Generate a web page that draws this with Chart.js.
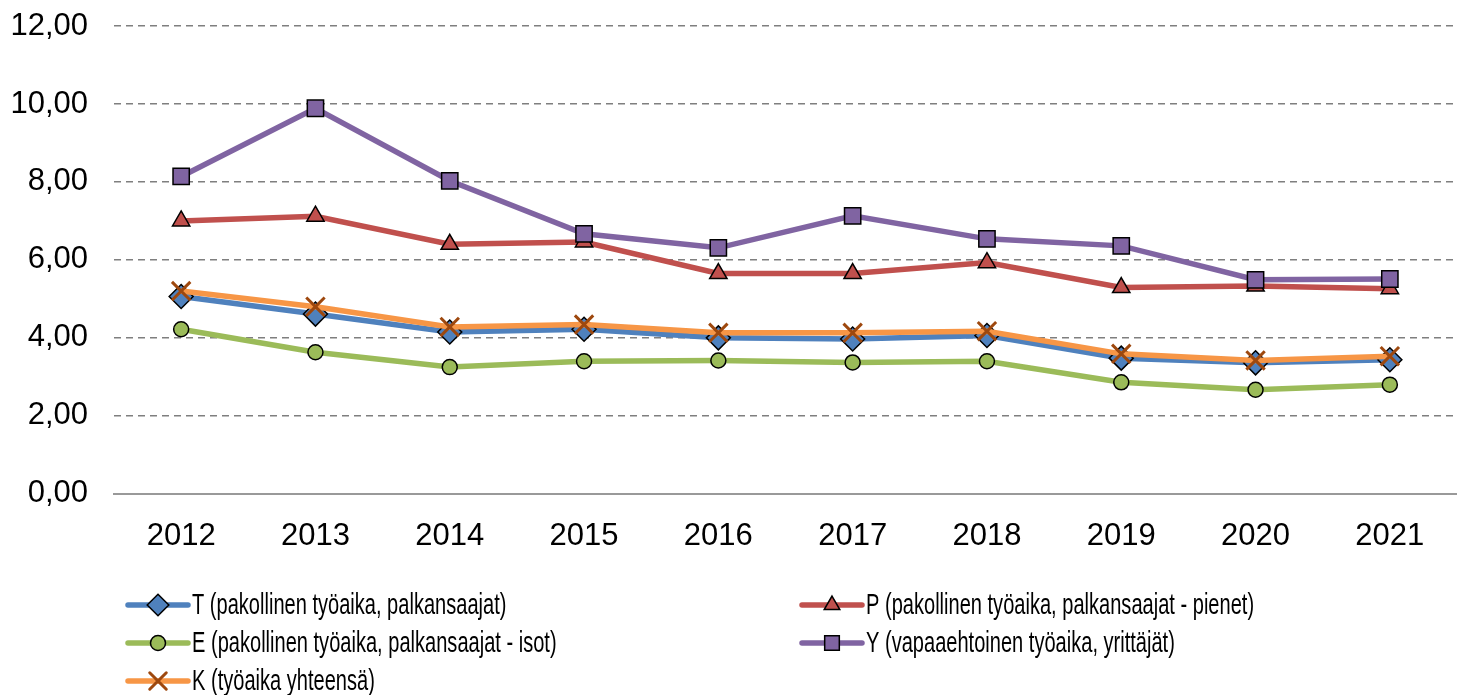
<!DOCTYPE html>
<html>
<head>
<meta charset="utf-8">
<script src="https://cdn.jsdelivr.net/npm/chart.js@4"></script>
<style>
  html, body { margin: 0; padding: 0; background: #fff; overflow: hidden; }
  #wrap { width: 1457px; height: 695px; position: relative; }
  canvas { display: block; }
</style>
</head>
<body>
<div id="wrap"><canvas id="kuvio"></canvas></div>
<script>
// vuodet ja sarjat
var vuodet = ['2012', '2013', '2014', '2015', '2016', '2017', '2018', '2019', '2020', '2021'];
var sarjaT = [5.06, 4.61, 4.15, 4.22, 4.00, 3.97, 4.06, 3.48, 3.36, 3.44];
var sarjaP = [7.00, 7.12, 6.40, 6.46, 5.65, 5.65, 5.93, 5.29, 5.33, 5.26];
var sarjaE = [4.22, 3.63, 3.25, 3.40, 3.42, 3.37, 3.40, 2.86, 2.67, 2.80];
var sarjaY = [8.14, 9.89, 8.03, 6.67, 6.31, 7.13, 6.54, 6.36, 5.49, 5.51];
var sarjaK = [5.20, 4.80, 4.28, 4.34, 4.13, 4.13, 4.17, 3.59, 3.42, 3.53];
var nimet = [
    'T (pakollinen työaika, palkansaajat)',
    'P (pakollinen työaika, palkansaajat - pienet)',
    'E (pakollinen työaika, palkansaajat - isot)',
    'Y (vapaaehtoinen työaika, yrittäjät)',
    'K (työaika yhteensä)'
];

var fontti = '"Liberation Sans", Arial, sans-serif';

function sarja(nimi, arvot, vari, tyyli, koko, taytto, reuna, reunaLev, jarj) {
    return {
        label: nimi,
        data: arvot,
        borderColor: vari,
        backgroundColor: vari,
        borderWidth: 5.5,
        tension: 0,
        pointStyle: tyyli,
        pointRadius: koko,
        pointHoverRadius: koko,
        pointBackgroundColor: taytto,
        pointBorderColor: reuna,
        pointBorderWidth: reunaLev,
        order: jarj,
        clip: false
    };
}

// oma selite kahteen sarakkeeseen (teksti kapeampana kuin alkuperäisessä)
var selite = {
    id: 'selite',
    afterDraw: function(chart) {
        var ctx = chart.ctx;
        var paikat = [[128, 605], [802, 605], [128, 643], [802, 643], [128, 681]];
        ctx.save();
        ctx.textBaseline = 'middle';
        chart.data.datasets.forEach(function(ds, i) {
            var x = paikat[i][0], y = paikat[i][1];
            ctx.beginPath();
            ctx.strokeStyle = ds.borderColor;
            ctx.lineWidth = 5.5;
            ctx.lineCap = 'round';
            ctx.moveTo(x, y);
            ctx.lineTo(x + 60, y);
            ctx.stroke();
            ctx.fillStyle = ds.pointBackgroundColor;
            ctx.strokeStyle = ds.pointBorderColor;
            ctx.lineWidth = ds.pointBorderWidth;
            Chart.helpers.drawPoint(ctx, {
                pointStyle: ds.pointStyle,
                radius: ds.pointStyle === 'circle' ? ds.pointRadius : ds.pointRadius * 0.9,
                rotation: 0,
                borderWidth: ds.pointBorderWidth
            }, x + 30, y);
            ctx.save();
            ctx.translate(x + 64, y);
            ctx.scale(0.68, 1);
            ctx.font = '29.5px ' + fontti;
            ctx.fillStyle = '#000';
            ctx.fillText(ds.label, 0, 1);
            ctx.restore();
        });
        ctx.restore();
    }
};

var ctx = document.getElementById('kuvio').getContext('2d');

var config = {
    type: 'line',
    data: {
        labels: vuodet,
        datasets: [
            sarja(nimet[0], sarjaT, '#4F81BD', 'rectRot', 12, '#4F81BD', '#000', 1.5, 4),
            sarja(nimet[1], sarjaP, '#C0504D', 'triangle', 10, '#C0504D', '#000', 1.5, 3),
            sarja(nimet[2], sarjaE, '#9BBB59', 'circle', 7.5, '#9BBB59', '#000', 1.5, 5),
            sarja(nimet[3], sarjaY, '#8064A2', 'rect', 11.5, '#8064A2', '#000', 1.5, 2),
            sarja(nimet[4], sarjaK, '#F79646', 'crossRot', 13, '#9E480E', '#9E480E', 3, 1)
        ]
    },
    options: {
        responsive: true,
        maintainAspectRatio: false,
        animation: false,
        layout: { autoPadding: false, padding: { top: 26, right: 0, bottom: 116, left: 0 } },
        plugins: {
            legend: { display: false },
            tooltip: { enabled: false }
        },
        scales: {
            x: {
                offset: true,
                afterFit: function(axis) { axis.paddingLeft = 0; axis.paddingRight = 0; },
                grid: { display: false, drawTicks: false },
                border: { display: true, color: '#999', width: 2 },
                ticks: { color: '#000', padding: 24, font: { family: fontti, size: 31 } }
            },
            y: {
                min: 0,
                max: 12,
                afterFit: function(axis) { axis.width = 114; axis.paddingTop = 0; axis.paddingBottom = 0; },
                grid: { color: '#7f7f7f', lineWidth: 1.5, drawTicks: false },
                border: { display: false, dash: [7, 5] },
                ticks: {
                    stepSize: 2,
                    color: '#000',
                    padding: 26,
                    font: { family: fontti, size: 31 },
                    callback: function(v) { return v.toFixed(2).replace('.', ','); }
                }
            }
        }
    },
    plugins: [selite]
};

var kuvio = new Chart(ctx, config);
</script>
</body>
</html>
